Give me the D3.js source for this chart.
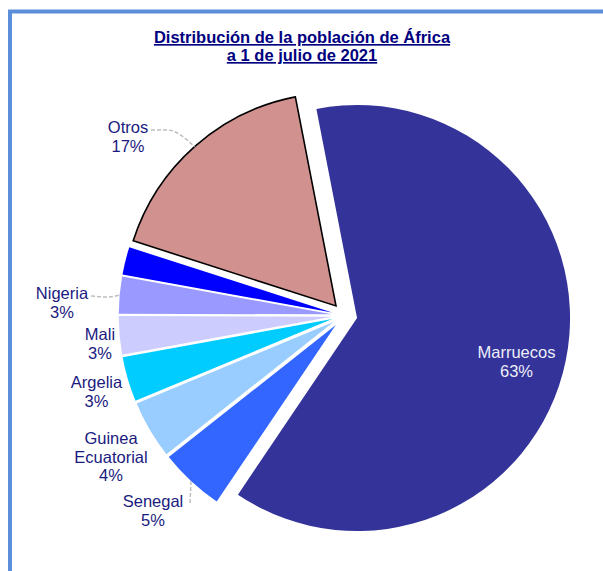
<!DOCTYPE html>
<html>
<head>
<meta charset="utf-8">
<script src="https://cdn.jsdelivr.net/npm/d3@7"></script>
<style>
  body { margin: 0; background: #fff; }
  svg { display: block; font-family: "Liberation Sans", Arial, sans-serif; }
</style>
</head>
<body>
<div id="chart"></div>
<script>
// data
const paises = ["Marruecos", "Senegal", "Guinea Ecuatorial", "Argelia", "Mali", "Nigeria", "", "Otros"];
const porcentaje = [62.5, 4.9, 4.4, 3.4, 2.9, 2.8, 2.1, 17.0];
const colores = ["#333399", "#3366FF", "#99CCFF", "#00CCFF", "#CCCCFF", "#9999FF", "#0000FF", "#D0918F"];
const titulo = ["Distribución de la población de África", "a 1 de julio de 2021"];

const W = 603, H = 571;
const cx = 344.5, cy = 315.5, R = 213, explode = 12.8;
const deg = Math.PI / 180;

// label layout (text centre x, first baseline y)
const labelPos = {
  "Marruecos": [516.5, 358],
  "Senegal": [153, 507],
  "Guinea Ecuatorial": [111, 444],
  "Argelia": [96.5, 388],
  "Mali": [100, 340],
  "Nigeria": [62, 299],
  "Otros": [128, 133]
};
// leader start points (near label)
const leaders = {
  "Otros": [[151, 130], [167, 130]],
  "Nigeria": [[91, 296], [108, 297]],
  "Senegal": [[190, 503]]
};

const svg = d3.select("#chart").append("svg").attr("width", W).attr("height", H);

// frame
svg.append("rect")
  .attr("x", 10).attr("y", 11.5)
  .attr("width", W + 20).attr("height", H + 20)
  .attr("fill", "none")
  .attr("stroke", "#5B8FD9")
  .attr("stroke-width", 4);

// title
const t = svg.append("text")
  .attr("text-anchor", "middle")
  .attr("fill", "#000080")
  .style("font-weight", "bold")
  .style("font-size", "16.5px")
  .style("text-decoration", "underline");
titulo.forEach((s, i) => {
  t.append("tspan").attr("x", 302).attr("y", 43 + i * 18).text(s);
});

const pie = d3.pie().sort(null).value(d => d).startAngle(-11 * deg).endAngle(349 * deg);
const arcs = pie(porcentaje);
const arc = d3.arc().innerRadius(0).outerRadius(R);

function offset(a) {
  const m = (a.startAngle + a.endAngle) / 2;
  return [cx + explode * Math.sin(m), cy - explode * Math.cos(m)];
}

const g = svg.append("g");
g.selectAll("path")
  .data(arcs)
  .enter()
  .append("path")
  .attr("transform", d => { const o = offset(d); return `translate(${o[0]},${o[1]})`; })
  .attr("d", arc)
  .attr("fill", (d, i) => colores[i])
  .attr("stroke", (d, i) => paises[i] === "Otros" ? "#000" : "none")
  .attr("stroke-width", 1.6)
  .attr("stroke-linejoin", "miter");

// leader lines
arcs.forEach((d, i) => {
  const name = paises[i];
  if (!leaders[name]) return;
  const o = offset(d);
  const m = (d.startAngle + d.endAngle) / 2;
  const end = [o[0] + R * Math.sin(m), o[1] - R * Math.cos(m)];
  const pts = leaders[name].concat([end]);
  svg.append("path")
    .attr("d", d3.line().curve(d3.curveMonotoneX)(pts))
    .attr("fill", "none")
    .attr("stroke", "#BFBFBF")
    .attr("stroke-width", 1.5)
    .attr("stroke-dasharray", "4,2");
});

// labels
arcs.forEach((d, i) => {
  const name = paises[i];
  if (!labelPos[name]) return;
  const p = labelPos[name];
  const lines = name.split(" ").concat([Math.round(porcentaje[i]) + "%"]);
  const txt = svg.append("text")
    .attr("text-anchor", "middle")
    .attr("fill", name === "Marruecos" ? "#EEEEF8" : "#1A1A80")
    .style("font-size", "16.5px");
  lines.forEach((s, j) => {
    txt.append("tspan").attr("x", p[0]).attr("y", p[1] + j * 18.7).text(s);
  });
});
</script>
</body>
</html>
